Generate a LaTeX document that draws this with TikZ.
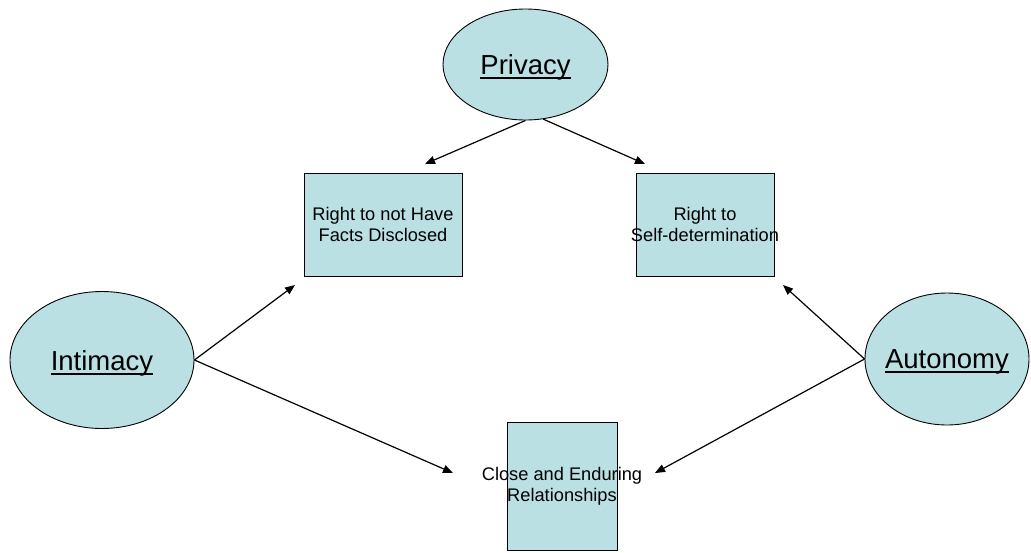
\documentclass[tikz,border=0pt]{standalone}
\usepackage{fontspec}
\setmainfont{Liberation Sans}
\usetikzlibrary{shapes.geometric,arrows.meta}
\definecolor{fillblue}{RGB}{187,224,227}
\newcommand\myul[1]{\setbox0\hbox{#1}\rlap{\rule[-0.17em]{\wd0}{0.07em}}\box0}
\tikzset{
  oval/.style={ellipse,draw=black,line width=0.9pt,fill=fillblue,inner sep=0pt},
  ovaltxt/.style={inner sep=0pt,yshift=-3pt,font=\fontsize{27.5}{30}\selectfont},
  boxnode/.style={rectangle,draw=black,line width=0.9pt,fill=fillblue,inner sep=0pt},
  boxtxt/.style={align=center,inner sep=0pt,font=\fontsize{18.25}{20.5}\selectfont},
  conn/.style={line width=1.2pt,-{Triangle[length=10pt,width=8pt]}}
}
\begin{document}
\begin{tikzpicture}[x=1pt,y=-1pt]
\useasboundingbox (0,0) rectangle (1031,552);
% ovals
\node[oval,minimum width=165pt,minimum height=111pt,label={[ovaltxt]center:\myul{Privacy}}] (priv) at (525.5,64.5) {};
\node[oval,minimum width=184pt,minimum height=137pt,label={[ovaltxt]center:\myul{Intimacy}}] (intim) at (102,360) {};
\node[oval,minimum width=164pt,minimum height=132pt,label={[ovaltxt]center:\myul{Autonomy}}] (auton) at (947,359) {};
% boxes
\node[boxnode,minimum width=158pt,minimum height=103pt] (facts) at (383,224.5) {};
\node[boxtxt] (factstxt) at (facts.center) {Right to not Have\\Facts Disclosed};
\node[boxnode,minimum width=138pt,minimum height=103pt] (self) at (705,224.5) {};
\node[boxtxt] (selftxt) at (self.center) {Right to\\Self-determination};
\node[boxnode,minimum width=110pt,minimum height=128pt] (close) at (562,486.5) {};
\node[boxtxt] (closetxt) at (close.center) {Close and Enduring\\Relationships};
% arrow end points
\coordinate (e1) at (425,164);
\coordinate (e2) at (645,164);
\coordinate (e3) at (295,285);
\coordinate (e4) at (453,473);
\coordinate (e5) at (783,285);
\coordinate (e6) at (655,473);
% connectors
\draw[conn] (priv.south) -- (e1);
\draw[conn] (priv.-72) -- (e2);
\draw[conn] (intim.east) -- (e3);
\draw[conn] (intim.east) -- (e4);
\draw[conn] (auton.west) -- (e5);
\draw[conn] (auton.west) -- (e6);
\end{tikzpicture}
\end{document}
